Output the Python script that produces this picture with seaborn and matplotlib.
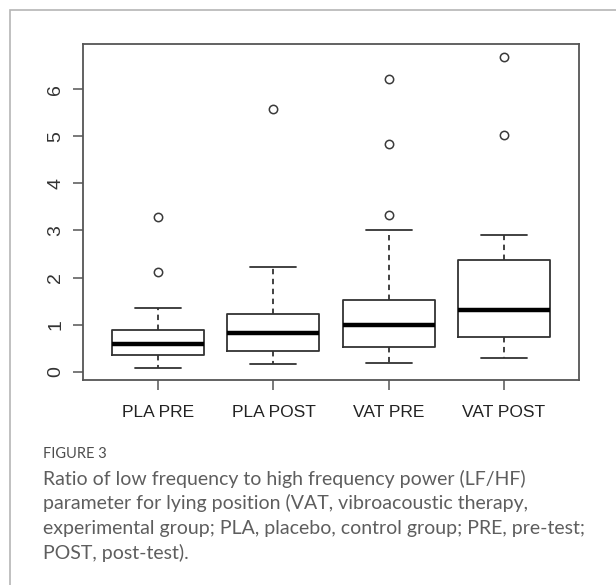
import numpy as np
import pandas as pd
import matplotlib
matplotlib.use("Agg")
import matplotlib.pyplot as plt
import matplotlib.patches as mpatches
import seaborn as sns

# group labels and raw values (quartiles, whiskers, outliers)
groups = ["PLA PRE", "PLA POST", "VAT PRE", "VAT POST"]
pla_pre = [0.085, 0.21, 0.30, 0.36, 0.44, 0.52, 0.58, 0.65, 0.76, 0.88, 1.36, 2.12, 3.29]
pla_post = [0.17, 0.32, 0.45, 0.62, 0.83, 1.02, 1.23, 2.22, 5.58]
vat_pre = [0.19, 0.28, 0.36, 0.45, 0.52, 0.63, 0.74, 0.86, 0.99, 1.12, 1.26, 1.40, 1.53,
           3.00, 3.33, 4.83, 6.22]
vat_post = [0.29, 0.48, 0.62, 0.735, 0.92, 1.10, 1.31, 1.55, 1.90, 2.37, 2.90, 5.02, 6.69]
y_ticks = [0, 1, 2, 3, 4, 5, 6]

caption_head = "FIGURE 3"
caption_lines = [
    "Ratio of low frequency to high frequency power (LF/HF)",
    "parameter for lying position (VAT, vibroacoustic therapy,",
    "experimental group; PLA, placebo, control group; PRE, pre-test;",
    "POST, post-test).",
]

df = pd.DataFrame({
    "group": [groups[0]] * len(pla_pre) + [groups[1]] * len(pla_post)
             + [groups[2]] * len(vat_pre) + [groups[3]] * len(vat_post),
    "value": pla_pre + pla_post + vat_pre + vat_post,
})

sns.set_style("ticks")
plt.rcParams["font.family"] = ["Liberation Sans", "DejaVu Sans"]

W, H = 616, 585
fig = plt.figure(figsize=(W / 100, H / 100), dpi=100)

# card border (only top and left edge visible in the crop)
fig.patches.append(mpatches.Rectangle((9.5 / W, -0.1), 1.2, 1 - 9.5 / H + 0.1,
                                      transform=fig.transFigure, fill=False,
                                      edgecolor="#b5b5b5", linewidth=1.2))

left, right, top, bottom = 82.7, 579.3, 44, 380
ax = fig.add_axes([left / W, 1 - bottom / H, (right - left) / W, (bottom - top) / H])

line_col = "#333333"
sns.boxplot(data=df, x="group", y="value", order=groups, ax=ax,
            width=0.8, fill=False, color=line_col, linewidth=1.3, whis=1.5,
            capwidths=0.4,
            medianprops=dict(color="black", linewidth=3.2),
            whiskerprops=dict(linestyle=(0, (3, 2.5))),
            flierprops=dict(marker="o", markersize=6, markerfacecolor="none",
                            markeredgecolor="#3a3a3a", markeredgewidth=1.1))

ax.set_xlim(-0.657, 3.657)
ax.set_ylim(-0.176, 6.962)
ax.set_yticks(y_ticks)
ax.set_yticklabels([str(t) for t in y_ticks], rotation=90, va="center")
ax.set_xlabel("")
ax.set_ylabel("")
for s in ax.spines.values():
    s.set_visible(True)
    s.set_color("#555555")
    s.set_linewidth(1.3)
ax.tick_params(axis="both", direction="out", length=7.2, width=1.1, color="#555555")
ax.tick_params(axis="x", labelsize=12.5, pad=10.5, labelcolor="#222222")
ax.tick_params(axis="y", labelsize=14, pad=6, labelcolor="#333333")

# caption
fig.text(42.7 / W, 1 - 458 / H, caption_head, fontsize=10.5, color="#4d4d4d",
         family=["Lato", "DejaVu Sans"], va="baseline")
for i, line in enumerate(caption_lines):
    fig.text(42.7 / W, 1 - (485 + i * 24.5) / H, line, fontsize=14, color="#5e5e5e",
             family=["Lato", "DejaVu Sans"], va="baseline")

fig.savefig("out.png", dpi=100)
